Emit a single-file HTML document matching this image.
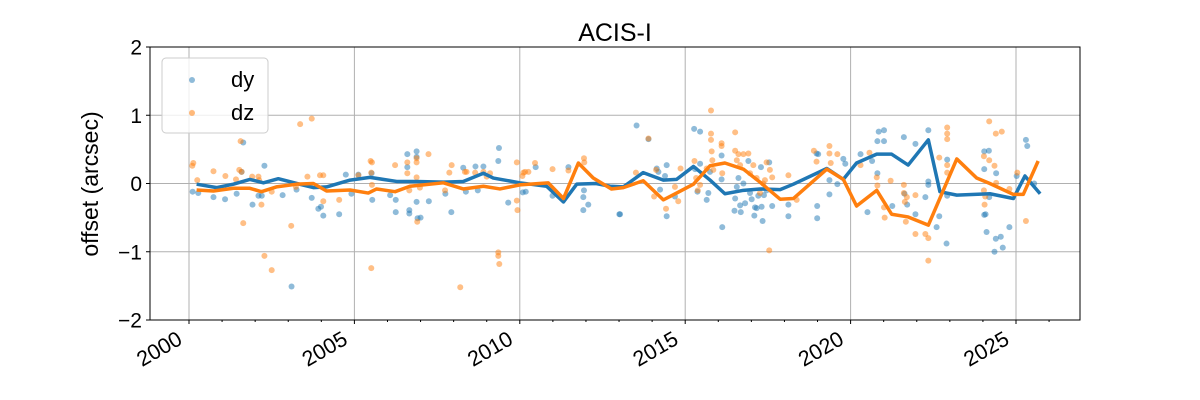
<!DOCTYPE html>
<html><head><meta charset="utf-8"><style>
html,body{margin:0;padding:0;background:#fff;}
svg{display:block;font-family:"Liberation Sans","DejaVu Sans",sans-serif;}
</style></head><body>
<svg id="chart" width="1200" height="400" viewBox="0 0 1200 400"></svg>
<script>
const xTicks=[2000,2005,2010,2015,2020,2025];
const yTicks=[-2,-1,0,1,2];
const yTickLabels=["\u22122","\u22121","0","1","2"];
const dyLineYears=[2000.23,2000.84,2001.34,2001.84,2002.25,2002.70,2003.26,2003.76,2004.16,2004.87,2005.47,2006.28,2006.88,2007.69,2008.29,2008.90,2009.20,2010.0,2010.81,2011.32,2011.72,2012.3,2012.73,2013.13,2013.73,2014.34,2014.74,2015.25,2015.75,2016.20,2016.76,2017.26,2017.87,2018.27,2019.28,2019.78,2020.18,2020.79,2021.24,2021.74,2022.35,2022.70,2023.21,2024.21,2024.92,2025.27,2025.73];
const dyLineVals=[-0.01,-0.06,-0.01,0.06,0.01,0.07,0.0,-0.06,-0.05,0.05,0.09,0.03,0.03,0.02,0.03,0.15,0.08,0.01,-0.04,-0.27,-0.01,0.0,-0.04,-0.05,0.16,0.05,0.06,0.25,0.05,-0.15,-0.10,-0.08,-0.09,-0.01,0.22,0.06,0.30,0.43,0.43,0.27,0.64,-0.12,-0.17,-0.15,-0.22,0.11,-0.15];
const dzLineYears=[2000.23,2000.74,2001.34,2001.84,2002.19,2002.64,2003.26,2003.76,2004.16,2004.87,2005.42,2005.67,2006.23,2006.68,2007.69,2008.29,2008.9,2009.4,2010.0,2010.86,2011.32,2011.77,2012.22,2012.77,2013.13,2013.73,2014.34,2014.74,2015.25,2015.75,2016.2,2016.76,2017.26,2017.87,2018.27,2019.28,2019.78,2020.18,2020.79,2021.24,2021.74,2022.35,2023.21,2023.81,2024.21,2024.92,2025.22,2025.67];
const dzLineVals=[-0.095,-0.11,-0.07,-0.07,-0.12,-0.05,-0.01,0.0,-0.11,-0.095,-0.14,-0.08,-0.12,-0.04,0.01,-0.08,-0.04,-0.08,-0.02,0.01,-0.22,0.30,0.08,-0.08,-0.06,0.04,-0.24,-0.14,-0.01,0.26,0.30,0.21,0.02,-0.23,-0.22,0.21,0.06,-0.33,-0.10,-0.45,-0.49,-0.61,0.36,0.08,0.0,-0.16,-0.16,0.33];
const dyPtYears=[2000.11,2000.28,2000.74,2001.09,2001.44,2001.64,2001.59,2001.92,2002.10,2002.20,2002.28,2002.83,2003.25,2003.71,2003.91,2003.99,2004.06,2004.54,2004.74,2004.91,2005.12,2005.52,2005.54,2006.08,2006.25,2006.25,2006.60,2006.60,2006.66,2006.66,2006.88,2006.88,2006.88,2006.91,2007.00,2007.25,2007.75,2007.93,2008.29,2008.37,2008.66,2008.73,2008.90,2009.37,2009.35,2009.65,2010.09,2010.18,2010.48,2010.99,2011.47,2011.92,2011.92,2011.94,2012.07,2013.01,2003.1,
2013.03,2013.53,2013.89,2014.14,2014.19,2014.24,2014.39,2014.44,2014.44,2014.69,2015.27,2015.30,2015.37,2015.45,2015.45,2015.65,2015.70,2015.75,2016.10,2016.10,2016.12,2016.49,2016.51,2016.56,2016.61,2016.66,2016.68,2016.76,2016.81,2016.91,2016.96,2017.01,2017.09,2017.11,2017.16,2017.21,2017.29,2017.31,2017.34,2017.38,2017.46,2017.54,2017.63,2018.12,2018.12,2018.97,2018.99,2018.99,2019.02,2019.36,2019.36,2019.60,2019.78,2019.84,2020.30,2020.51,2020.65,2020.81,2020.81,2020.85,2021.01,2021.01,2021.26,2021.61,2021.63,2021.71,2021.96,2021.96,2022.26,2022.35,2022.35,2022.35,2022.60,2022.68,2022.90,2022.92,2022.92,2024.04,2024.04,2024.04,2024.08,2024.11,2024.18,2024.19,2024.35,2024.39,2024.40,2024.54,2024.60,2024.80,2025.02,2025.30,2025.34,2025.55];
const dyPtVals=[-0.12,-0.14,-0.20,-0.23,-0.15,0.60,0.17,-0.31,-0.18,-0.18,0.26,-0.17,-0.09,-0.21,-0.37,-0.34,-0.47,-0.45,0.13,-0.15,0.13,0.15,-0.24,-0.17,-0.24,-0.42,0.43,0.24,-0.39,-0.44,0.47,0.39,-0.27,-0.51,-0.50,-0.26,-0.15,-0.42,0.23,-0.12,0.25,-0.10,0.25,0.52,0.33,-0.28,-0.13,-0.12,0.24,-0.18,0.24,-0.20,-0.39,-0.10,-0.31,-0.45,-1.51,
-0.45,0.85,0.65,0.22,0.17,-0.09,0.11,0.27,-0.48,-0.19,0.80,0.21,-0.12,0.76,0.29,-0.24,-0.14,0.17,0.41,0.06,-0.64,-0.40,-0.22,-0.05,0.08,-0.32,-0.42,0.00,-0.29,0.33,-0.14,-0.23,-0.47,-0.35,-0.36,-0.18,0.24,-0.34,-0.55,-0.17,-0.10,0.31,-0.33,-0.31,-0.48,0.44,-0.33,-0.51,0.43,0.05,-0.16,-0.01,0.36,0.29,0.43,-0.42,0.33,0.62,0.15,0.76,0.78,0.62,-0.33,0.68,-0.15,-0.31,0.58,-0.45,-0.20,0.78,0.03,-0.02,-0.64,-0.48,-0.88,0.35,-0.18,0.47,0.21,-0.46,-0.45,-0.71,0.48,-0.20,-1.00,-0.81,0.15,-0.78,-0.94,-0.64,0.11,0.64,0.55,0.00];
const dzPtYears=[2000.09,2000.10,2000.13,2000.25,2000.74,2001.10,2001.42,2001.56,2001.52,2001.59,2001.64,2001.91,2002.10,2002.12,2002.19,2002.28,2002.50,2002.50,2003.09,2003.23,2003.36,2003.58,2003.71,2003.96,2004.06,2004.06,2004.54,2005.12,2005.49,2005.53,2005.51,2005.53,2005.51,2006.23,2006.60,2006.60,2006.66,2006.88,2006.88,2006.88,2006.90,2006.98,2007.24,2007.74,2007.87,2007.94,2008.34,2008.39,2008.65,2008.90,2009.00,2009.10,2009.35,2009.35,2009.38,2009.91,2009.91,2009.93,2010.08,2010.11,2010.16,2010.26,2010.46,2010.99,2011.47,2011.94,2011.95,2008.2,
2013.51,2013.89,2014.06,2014.12,2014.42,2014.69,2014.79,2014.86,2015.28,2015.33,2015.38,2015.45,2015.65,2015.78,2015.78,2015.78,2015.80,2015.82,2015.85,2016.10,2016.10,2016.12,2016.51,2016.51,2016.56,2016.61,2016.66,2016.76,2016.91,2016.96,2017.06,2017.16,2017.26,2017.36,2017.41,2017.46,2017.54,2017.56,2017.63,2018.12,2018.37,2018.89,2018.97,2019.36,2019.36,2019.40,2019.60,2020.30,2020.57,2020.79,2020.81,2021.01,2021.03,2021.21,2021.61,2021.61,2021.64,2021.67,2021.70,2021.96,2021.96,2022.26,2022.35,2022.35,2022.68,2022.92,2022.92,2022.92,2022.92,2022.92,2024.03,2024.03,2024.05,2024.07,2024.19,2024.19,2024.35,2024.39,2024.40,2024.57,2024.80,2025.04,2025.30];
const dzPtVals=[1.04,0.26,0.30,0.05,0.18,0.11,0.06,0.62,0.20,0.17,-0.58,0.10,0.10,0.05,-0.31,-1.06,-0.12,-1.27,-0.62,-0.05,0.87,0.10,0.95,0.12,0.12,-0.26,-0.24,0.12,0.33,0.31,0.16,-0.02,-1.24,0.27,0.31,0.15,-0.10,0.37,0.31,0.09,-0.56,-0.06,0.43,-0.10,0.16,0.27,0.17,0.17,0.16,0.17,0.10,0.15,-1.01,-1.06,-1.18,0.31,-0.25,-0.39,0.11,0.16,0.17,0.17,0.30,0.21,0.19,0.37,0.31,-1.52,
0.16,0.66,-0.19,0.20,-0.37,-0.05,-0.26,0.22,0.33,0.08,-0.10,-0.02,0.22,1.07,0.73,0.64,0.47,0.34,0.20,0.59,0.55,0.15,0.75,0.48,0.34,0.43,0.27,0.43,0.44,0.15,0.27,0.08,-0.14,0.00,0.05,0.31,-0.98,0.20,0.09,0.12,-0.24,0.48,0.32,0.55,0.44,0.30,0.43,0.27,0.45,0.09,-0.03,-0.35,-0.50,0.04,-0.02,-0.14,-0.27,-0.56,-0.20,-0.17,-0.74,-0.74,-0.80,-1.13,0.38,0.82,0.73,0.65,0.27,0.16,0.40,-0.10,-0.31,-0.19,0.91,0.34,0.26,0.73,0.01,0.76,-0.08,0.16,-0.55];

const NS="http://www.w3.org/2000/svg";
const svg=document.getElementById('chart');
const L=150,R=1080,T=47,B=320;
const xs=y=>189+(y-2000)*33.08;
const ys=v=>183.5-v*68.25;
function mk(tag,attrs,parent){const e=document.createElementNS(NS,tag);for(const k in attrs)e.setAttribute(k,attrs[k]);(parent||svg).appendChild(e);return e;}

const grid=mk('g',{});


xTicks.forEach(t=>{const l=mk('line',{x1:xs(t),x2:xs(t),y1:T,y2:B,stroke:'#b0b0b0','stroke-width':1},grid);

});
yTicks.forEach(t=>{const l=mk('line',{x1:L,x2:R,y1:ys(t),y2:ys(t),stroke:'#b0b0b0','stroke-width':1},grid);

});

function scatter(yrs,vals,color,name){const g=mk('g',{});


yrs.forEach((y,i)=>{const c=mk('circle',{cx:xs(y),cy:ys(vals[i]),r:3,fill:color,'fill-opacity':0.5},g);

});}
scatter(dyPtYears,dyPtVals,'#1f77b4','dy-points');
scatter(dzPtYears,dzPtVals,'#ff7f0e','dz-points');

function line(yrs,vals,color,name){const p=mk('polyline',{points:yrs.map((y,i)=>xs(y)+','+ys(vals[i])).join(' '),fill:'none',stroke:color,'stroke-width':3.5,'stroke-linejoin':'round'});

}
line(dyLineYears,dyLineVals,'#1f77b4','dy-mean-line');
line(dzLineYears,dzLineVals,'#ff7f0e','dz-mean-line');

const frame=mk('rect',{x:L,y:T,width:R-L,height:B-T,fill:'none',stroke:'#000','stroke-width':1});



const xax=mk('g',{});


xTicks.forEach(t=>{mk('line',{x1:xs(t),x2:xs(t),y1:B,y2:B+4,stroke:'#000'},xax);
const ax=xs(t)-13, ay=B+10;
const tx=mk('text',{x:ax,y:ay,'font-size':21.5,'text-anchor':'end','dominant-baseline':'hanging',transform:`rotate(-30 ${ax} ${ay})`},xax);
tx.textContent=t;

});
for(let yr=2000;yr<=2026;yr++){if(yr%5)mk('line',{x1:xs(yr),x2:xs(yr),y1:B,y2:B+2,stroke:'#000'},xax);}

const yax=mk('g',{});


yTicks.forEach((t,i)=>{mk('line',{x1:L-4,x2:L,y1:ys(t),y2:ys(t),stroke:'#000'},yax);
const tx=mk('text',{x:L-8,y:ys(t)+7.5,'font-size':21,'text-anchor':'end'},yax);
tx.textContent=yTickLabels[i];

});
const yl=mk('text',{x:98,y:184,'font-size':23,'text-anchor':'middle',transform:'rotate(-90 98 184)'});
yl.textContent='offset (arcsec)';


const ti=mk('text',{x:615,y:41,'font-size':25,'text-anchor':'middle'});
ti.textContent='ACIS-I';



const lg=mk('g',{});


mk('rect',{x:162,y:58,width:106,height:75,rx:4,fill:'#fff','fill-opacity':0.8,stroke:'#ccc'},lg);
[['dy','#1f77b4',80],['dz','#ff7f0e',113]].forEach(([n,c,y])=>{
const e=mk('g',{},lg);


mk('circle',{cx:192,cy:y,r:3,fill:c,'fill-opacity':0.5},e);
const t=mk('text',{x:231,y:y+7,'font-size':22},e);t.textContent=n;});
</script>
</body></html>
